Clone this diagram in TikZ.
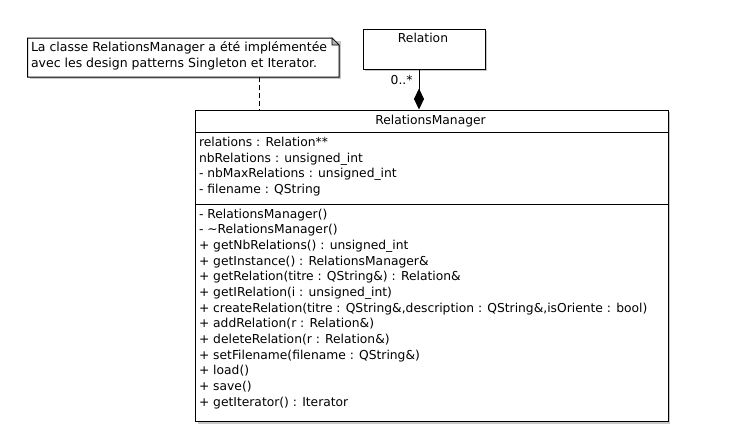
\documentclass[tikz,border=0pt]{standalone}
\usepackage{fontspec}
\setmainfont{DejaVu Sans}
\usetikzlibrary{arrows.meta}
\begin{document}
\begin{tikzpicture}[x=1pt,y=-1pt,line width=1pt,
  font=\fontsize{12.3}{14}\selectfont,
  umlbox/.style={draw=black,fill=white,inner sep=0pt,anchor=north west},
  txt/.style={anchor=base west,inner sep=0pt},
  ctxt/.style={anchor=base,inner sep=0pt},
  notetxt/.style={anchor=base west,inner sep=0pt,font=\fontsize{12.5}{14}\selectfont}]
\useasboundingbox[fill=white] (0,0) rectangle (738,439);
% shadows
\fill[black!22] (30,40.5) rectangle (340.5,78.5);
\fill[black!22] (365,31) rectangle (487,71);
\fill[black!22] (197.5,112) rectangle (670,423.5);
% note
\node[inner sep=0pt,anchor=north west,minimum width=310.5pt,minimum height=38pt] (note) at (27.5,38) {};
\draw[fill=white] (note.north west) -- ([xshift=-7pt]note.north east) -- ([yshift=-7pt]note.north east) -- (note.south east) -- (note.south west) -- cycle;
\draw[fill=black!30,line width=0.6pt] ([xshift=-7pt]note.north east) -- ([xshift=-7pt,yshift=-7pt]note.north east) -- ([yshift=-7pt]note.north east) -- cycle;
\node[notetxt] (n1) at (30.5,51.8) {La classe RelationsManager a été implémentée};
\node[notetxt] (n2) at (30.5,67.3) {avec les design patterns Singleton et Iterator.};
% Relation
\node[umlbox,minimum width=122pt,minimum height=40pt] (rel) at (362.5,28.5) {};
\node[ctxt] (reltitle) at (423,42.8) {Relation};
% RelationsManager
\node[umlbox,minimum width=472.5pt,minimum height=311.5pt] (rm) at (195,109.5) {};
\node[ctxt] (rmtitle) at (430.5,124.5) {RelationsManager};
\coordinate (s1) at (0,132.3);
\coordinate (s2) at (0,204.3);
\draw (rm.west |- s1) -- (rm.east |- s1);
\draw (rm.west |- s2) -- (rm.east |- s2);
\foreach \t [count=\i, evaluate=\i as \yy using 146.2+(\i-1)*15.8] in
  {{relations : Relation**},
   {nbRelations : unsigned\_int},
   {- nbMaxRelations : unsigned\_int},
   {- filename : QString}}
  \node[txt] (a\i) at (198.5,\yy) {\t};
\foreach \t [count=\i, evaluate=\i as \yy using 218+(\i-1)*15.68] in
  {{- RelationsManager()},
   {- \textasciitilde RelationsManager()},
   {+ getNbRelations() : unsigned\_int},
   {+ getInstance() : RelationsManager\&},
   {+ getRelation(titre : QString\&) : Relation\&},
   {+ getIRelation(i : unsigned\_int)},
   {+ createRelation(titre : QString\&,description : QString\&,isOriente : bool)},
   {+ addRelation(r : Relation\&)},
   {+ deleteRelation(r : Relation\&)},
   {+ setFilename(filename : QString\&)},
   {+ load()},
   {+ save()},
   {+ getIterator() : Iterator}}
  \node[txt] (m\i) at (198.5,\yy) {\t};
% composition
\coordinate (dx) at (419,0);
\draw[-{Diamond[length=21pt,width=10pt,sep=0pt]}] (rel.south -| dx) -- (dx |- rm.north);
\node[anchor=base east,inner sep=0pt] (mult) at (413,84.5) {0..*};
% note link
\coordinate (nx) at (259.5,0);
\draw[dash pattern=on 5pt off 3pt] (note.south -| nx) -- (nx |- rm.north);
\end{tikzpicture}
\end{document}
